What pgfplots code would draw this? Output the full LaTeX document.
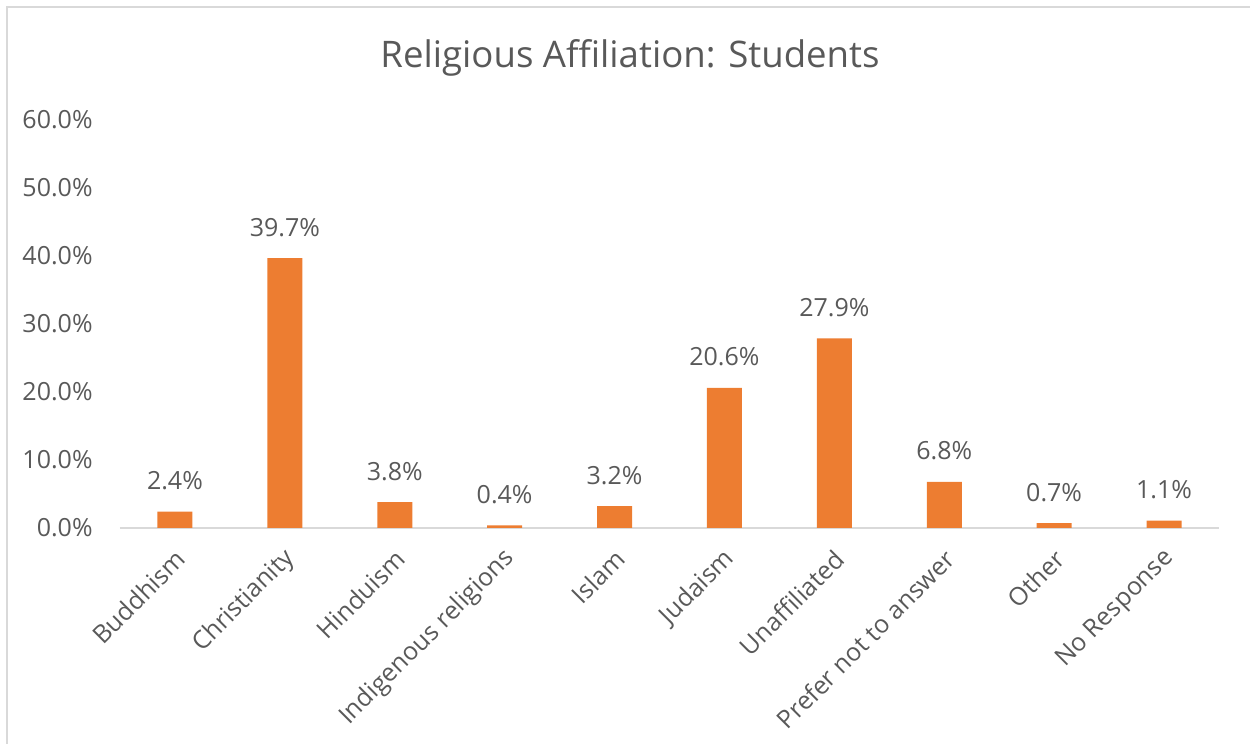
\documentclass[border=0pt]{standalone}
\usepackage{fontspec}
\setmainfont{Open Sans}
\usepackage{pgfplots}
\pgfplotsset{compat=1.18}
\definecolor{barorange}{HTML}{ED7D31}
\definecolor{txtgray}{HTML}{595959}
\definecolor{linegray}{HTML}{D9D9D9}
\begin{document}
\begin{tikzpicture}
\useasboundingbox (0,0) rectangle (625pt,372pt);
\draw[linegray,line width=1pt] (3.5pt,0) -- (3.5pt,368.5pt) -- (625pt,368.5pt);
\node[txtgray,font=\fontsize{18.3}{22}\selectfont] at (315pt,343pt) {Religious Affiliation: Students};
\begin{axis}[
  at={(60pt,108pt)}, anchor=south west,
  scale only axis, width=549.5pt, height=204pt,
  xmin=-0.5, xmax=9.5, ymin=0, ymax=60,
  axis x line*=bottom, axis y line*=left,
  x axis line style={linegray,line width=1.2pt,-},
  y axis line style={draw=none},
  xtick=data, xtick style={draw=none}, ytick style={draw=none},
  xticklabels={Buddhism,Christianity,Hinduism,Indigenous religions,Islam,Judaism,Unaffiliated,Prefer not to answer,Other,No Response},
  xticklabel style={xshift=3pt,yshift=-9pt,rotate=45,anchor=east,inner sep=0pt,font=\fontsize{12.5}{14}\selectfont,text=txtgray},
  ytick={0,10,20,30,40,50,60},
  yticklabel={\pgfmathprintnumber[fixed,fixed zerofill,precision=1]{\tick}\%},
  yticklabel style={anchor=east,inner sep=0pt,font=\fontsize{12.5}{14}\selectfont,text=txtgray,xshift=-13.5pt},
  /pgf/number format/assume math mode=true,
  ybar, bar width=17.5pt,
  nodes near coords={\pgfmathprintnumber[fixed,fixed zerofill,precision=1]{\pgfplotspointmeta}\%},
  nodes near coords style={font=\fontsize{12.5}{14}\selectfont,text=txtgray,anchor=base,inner sep=0pt,yshift=11pt},
  clip=false,
]
\addplot[fill=barorange,draw=none] coordinates {
(0,2.4) (1,39.7) (2,3.8) (3,0.4) (4,3.2) (5,20.6) (6,27.9) (7,6.8) (8,0.7) (9,1.1)};
\end{axis}
\end{tikzpicture}
\end{document}
